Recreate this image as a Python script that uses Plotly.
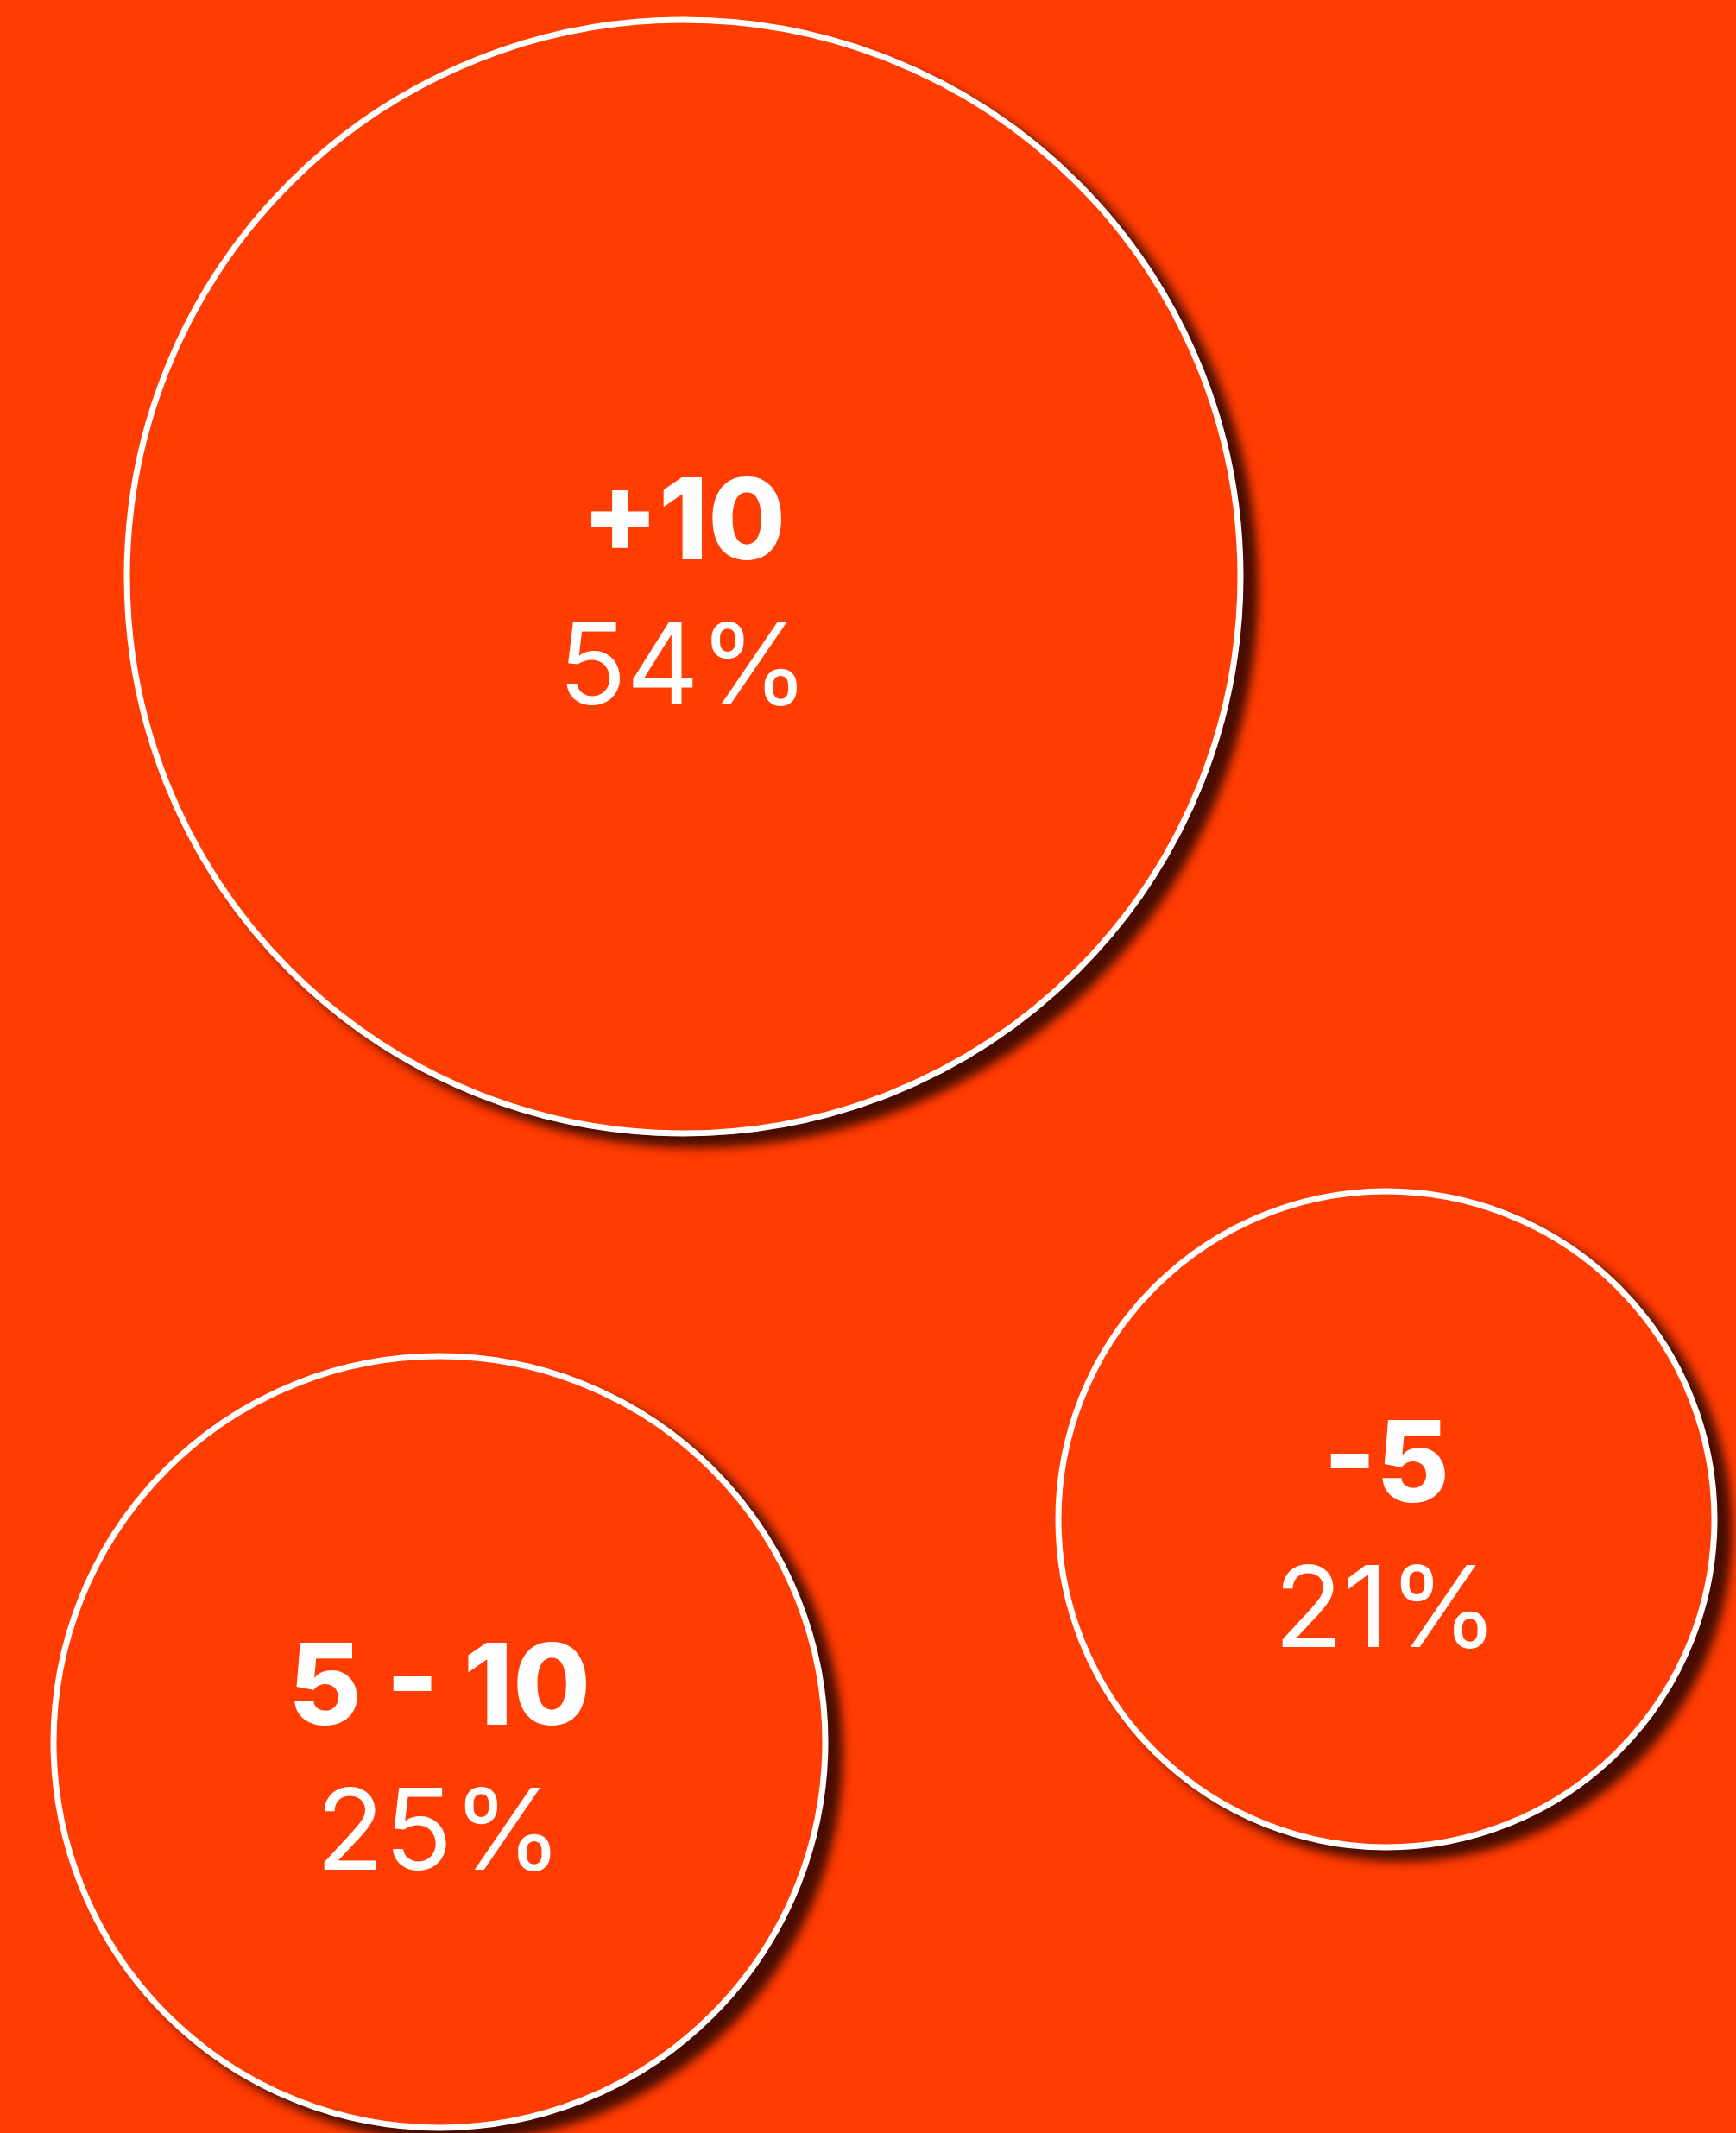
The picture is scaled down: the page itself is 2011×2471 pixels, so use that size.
import math
import plotly.graph_objects as go

# Years-of-experience groups and the share of respondents in each
categories = ["+10", "5 - 10", "-5"]
shares = [54, 25, 21]

# Bubble layout (pixel units of the 2011 x 2471 canvas)
bubble_cx = [792, 509, 1606]
bubble_cy = [668, 2018, 1760]
bubble_r = [645, 447, 380]

W, H = 2011, 2471
ORANGE = "#FF3D02"
WHITE = "#FFFFFF"
STROKE = 7

# soft drop shadow: offset, blur sigma, peak opacity
SH_DX, SH_DY, SH_SIGMA, SH_ALPHA = 17, 13, 5.5, 0.76


def phi(z):
    return 0.5 * (1 + math.erf(z / math.sqrt(2)))


def shadow_layers(cx, cy, r):
    """Stack of translucent discs approximating a blurred shadow."""
    R = r + STROKE / 2
    n = 18
    span = 5.4
    z_vals = [span / 2 - i * (span / (n - 1)) for i in range(n)]  # largest radius first
    dz = span / (n - 1)
    shapes = []
    prev = 0.0
    for z in z_vals:
        target = SH_ALPHA * phi(-(z - dz / 2))
        a = 1 - (1 - target) / (1 - prev)
        prev = target
        rad = R + SH_SIGMA * z
        shapes.append(dict(
            type="circle", xref="x", yref="y", layer="below",
            x0=cx + SH_DX - rad, x1=cx + SH_DX + rad,
            y0=cy + SH_DY - rad, y1=cy + SH_DY + rad,
            fillcolor=f"rgba(20,4,0,{a:.4f})", line=dict(width=0),
        ))
    return shapes


shapes = []
for cx, cy, r in zip(bubble_cx, bubble_cy, bubble_r):
    shapes += shadow_layers(cx, cy, r)
for cx, cy, r in zip(bubble_cx, bubble_cy, bubble_r):
    shapes.append(dict(
        type="circle", xref="x", yref="y", layer="below",
        x0=cx - r, x1=cx + r, y0=cy - r, y1=cy + r,
        fillcolor=ORANGE, line=dict(color=WHITE, width=STROKE),
    ))

LABEL_DY = -53
PCT_DY = 115

fig = go.Figure()
fig.add_trace(go.Scatter(
    x=bubble_cx,
    y=[cy + LABEL_DY for cy in bubble_cy],
    text=categories,
    mode="text",
    textposition="middle center",
    textfont=dict(family="Inter", size=130, color=WHITE, weight=800),
    hoverinfo="skip",
    showlegend=False,
))
fig.add_trace(go.Scatter(
    x=bubble_cx,
    y=[cy + PCT_DY for cy in bubble_cy],
    text=[f"{s}%" for s in shares],
    mode="text",
    textposition="middle center",
    textfont=dict(family="Inter", size=130, color=WHITE, weight=400),
    hoverinfo="skip",
    showlegend=False,
))

fig.update_layout(
    width=W, height=H,
    margin=dict(l=0, r=0, t=0, b=0),
    paper_bgcolor=ORANGE,
    plot_bgcolor=ORANGE,
    shapes=shapes,
    showlegend=False,
    xaxis=dict(range=[0, W], visible=False, fixedrange=True),
    yaxis=dict(range=[H, 0], visible=False, fixedrange=True),
)

fig.write_html("out.html", config={"displayModeBar": False})
